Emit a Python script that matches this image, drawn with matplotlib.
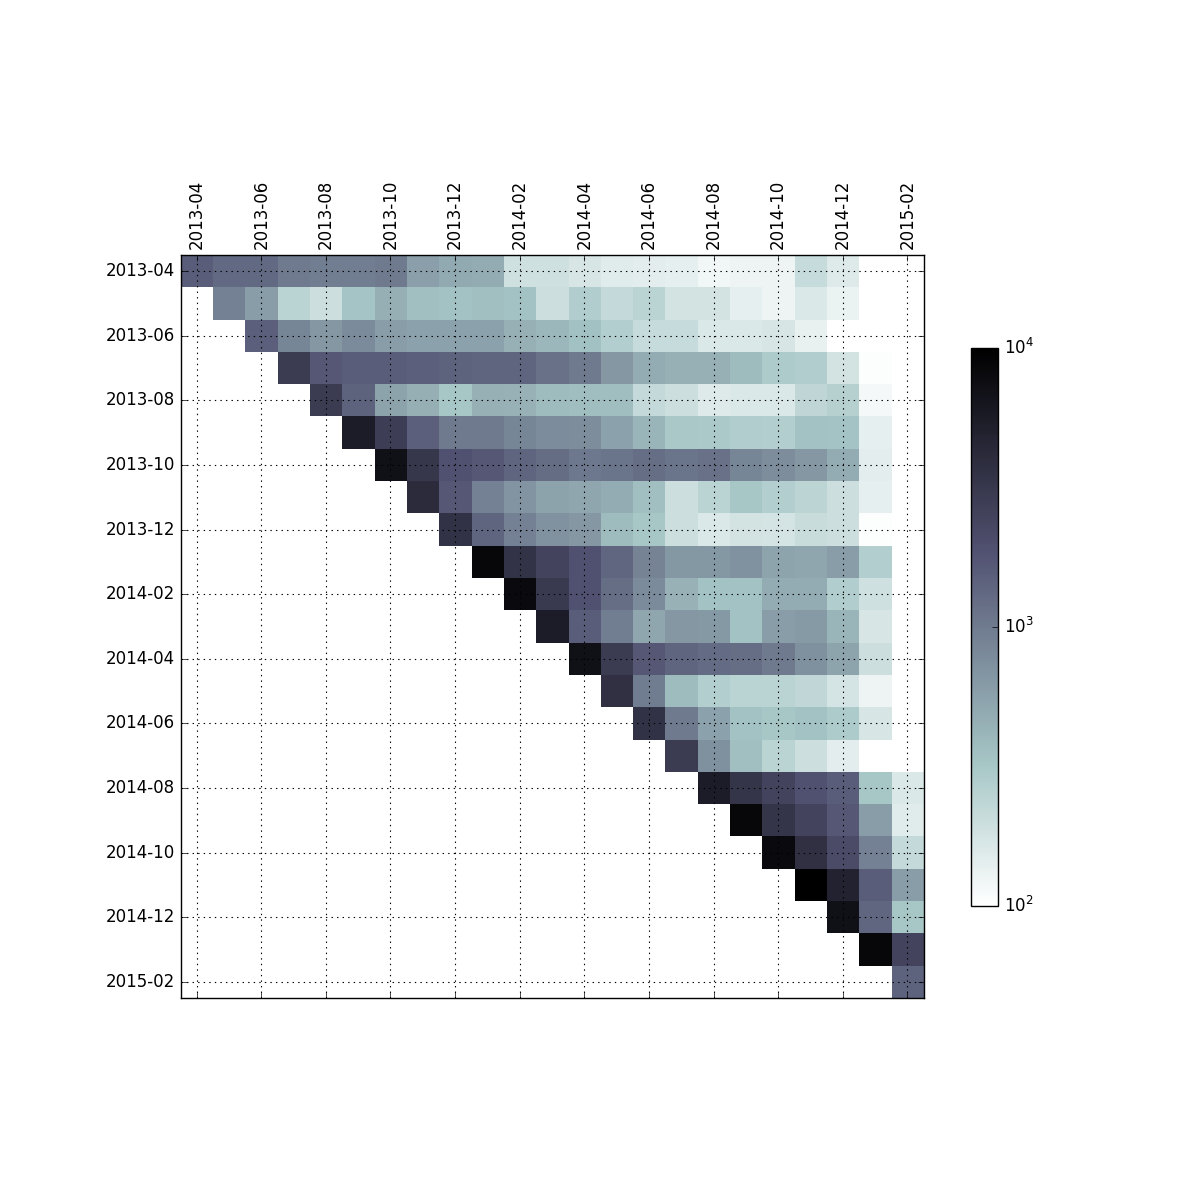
import numpy as np
import matplotlib
matplotlib.use("Agg")
import matplotlib.pyplot as plt
from matplotlib.colors import LogNorm

plt.style.use("classic")

nan = np.nan
months = ["2013-04", "2013-05", "2013-06", "2013-07", "2013-08", "2013-09",
          "2013-10", "2013-11", "2013-12", "2014-01", "2014-02", "2014-03",
          "2014-04", "2014-05", "2014-06", "2014-07", "2014-08", "2014-09",
          "2014-10", "2014-11", "2014-12", "2015-01", "2015-02"]

# each cohort row starts at its own month (diagonal) and runs to 2015-02
c_2013_04 = [1550, 1300, 1300, 1000, 950, 950, 1000, 580, 500, 470, 190, 190, 170, 150, 145, 140, 120, 125, 125, 210, 155, nan, nan]
c_2013_05 = [900, 600, 250, 195, 330, 460, 360, 340, 360, 340, 195, 280, 220, 250, 180, 180, 140, 125, 160, 130, nan, nan]
c_2013_06 = [1500, 850, 650, 780, 600, 560, 560, 560, 450, 400, 350, 270, 210, 210, 160, 160, 170, 135, nan, nan, nan]
c_2013_07 = [2900, 1700, 1550, 1550, 1500, 1450, 1400, 1400, 1150, 1000, 650, 480, 450, 450, 380, 290, 280, 180, 105, nan]
c_2013_08 = [2900, 1450, 550, 460, 320, 450, 440, 380, 370, 370, 220, 195, 155, 160, 160, 230, 260, 115, nan]
c_2013_09 = [5500, 2800, 1500, 1000, 1000, 850, 770, 760, 560, 420, 310, 300, 280, 270, 340, 335, 140, nan]
c_2013_10 = [7000, 3200, 1900, 1700, 1400, 1220, 1050, 1100, 1200, 1100, 1150, 850, 750, 650, 480, 145, nan]
c_2013_11 = [4000, 1700, 900, 680, 550, 520, 480, 360, 195, 250, 320, 270, 240, 195, 140, nan]
c_2013_12 = [3500, 1400, 900, 700, 650, 380, 320, 195, 160, 180, 175, 205, 195, 105, nan]
c_2014_01 = [8500, 3400, 2500, 1900, 1350, 880, 640, 640, 700, 540, 520, 600, 270, nan]
c_2014_02 = [8000, 3000, 1900, 1200, 780, 440, 340, 340, 480, 480, 280, 190, nan]
c_2014_03 = [5500, 1550, 950, 520, 650, 630, 340, 600, 620, 420, 170, nan]
c_2014_04 = [7000, 2900, 1700, 1400, 1250, 1200, 1000, 720, 540, 195, nan]
c_2014_05 = [3700, 980, 380, 270, 250, 250, 225, 175, 125, nan]
c_2014_06 = [3500, 1000, 560, 340, 320, 340, 290, 170, nan]
c_2014_07 = [2900, 720, 360, 250, 195, 145, nan, nan]
c_2014_08 = [5500, 3300, 2500, 1900, 1550, 320, 160]
c_2014_09 = [8500, 3300, 2500, 1700, 600, 150]
c_2014_10 = [8000, 3700, 2100, 900, 220]
c_2014_11 = [10000, 4800, 1550, 600]
c_2014_12 = [7000, 1350, 320]
c_2015_01 = [8500, 2500]
c_2015_02 = [1450]

rows = [c_2013_04, c_2013_05, c_2013_06, c_2013_07, c_2013_08, c_2013_09,
        c_2013_10, c_2013_11, c_2013_12, c_2014_01, c_2014_02, c_2014_03,
        c_2014_04, c_2014_05, c_2014_06, c_2014_07, c_2014_08, c_2014_09,
        c_2014_10, c_2014_11, c_2014_12, c_2015_01, c_2015_02]

n = len(months)
M = np.full((n, n), np.nan)
for i, r in enumerate(rows):
    M[i, n - len(r):] = r

fig = plt.figure(figsize=(12, 12), dpi=100, facecolor="white")
ax = fig.add_axes([0.15, 1 - 998 / 1200, 0.62, 743 / 1200])
im = ax.imshow(np.ma.masked_invalid(M), cmap="bone_r",
               norm=LogNorm(vmin=100, vmax=10000),
               interpolation="nearest", aspect="equal")
ticks = np.arange(0, n, 2)
ax.set_xticks(ticks)
ax.set_yticks(ticks)
ax.set_xticklabels([months[k] for k in ticks], rotation=90)
ax.set_yticklabels([months[k] for k in ticks])
ax.tick_params(axis="x", labeltop=True, labelbottom=False, top=True, bottom=True)
ax.tick_params(axis="y", left=True, right=True)
ax.grid(True, color="k", linestyle=":", linewidth=0.8)

cax = fig.add_axes([971 / 1200, 1 - 906 / 1200, 27 / 1200, 558 / 1200])
cb = fig.colorbar(im, cax=cax)
cb.ax.minorticks_off()

fig.savefig("out.png", dpi=100, facecolor="white")
